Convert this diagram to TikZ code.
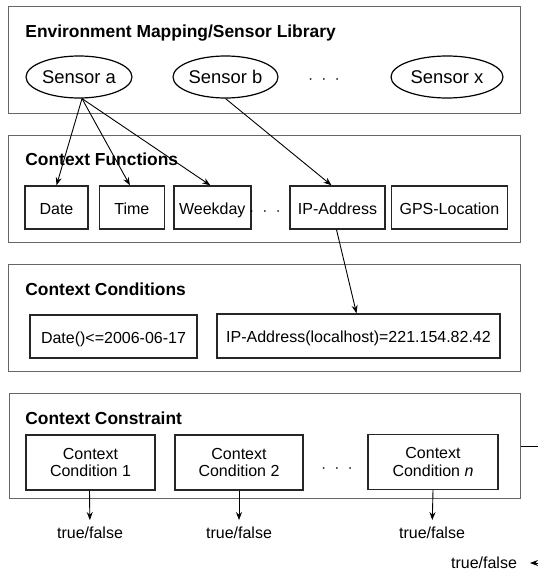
\documentclass[tikz,border=0pt]{standalone}
\usepackage{fontspec}
\setmainfont{Liberation Sans}
\usetikzlibrary{shapes.geometric,arrows.meta,positioning}

\begin{document}
\begin{tikzpicture}[x=0.5pt,y=-0.5pt,
  panel/.style={rectangle,draw=black!60,line width=0.6pt,anchor=north west,inner sep=0pt},
  title/.style={anchor=base west,font=\fontsize{8.7}{10}\selectfont\bfseries,inner sep=0pt},
  sensor/.style={ellipse,draw,line width=0.6pt,minimum height=21pt,inner sep=0pt,
                 font=\fontsize{9.2}{11}\selectfont},
  box/.style={rectangle,draw=black!85,line width=0.7pt,inner sep=0pt,
              font=\fontsize{8}{8.8}\selectfont},
  func/.style={box,minimum height=21.5pt,text height=1.75ex,text depth=0.45ex},
  cond/.style={func},
  cons/.style={box,minimum height=27.5pt,align=center},
  result/.style={font=\fontsize{8}{9.5}\selectfont},
  dots/.style={font=\fontsize{8}{9}\selectfont\bfseries,inner sep=0pt},
  arrow/.style={-{Stealth[length=4pt,width=3pt]},line width=0.45pt},
  node distance=4.5pt
]
\useasboundingbox (0,0) rectangle (538,573);

% panels
\node[panel,minimum width=256pt,minimum height=53.5pt]   (envpanel)  at (8,6)   {};
\node[panel,minimum width=256pt,minimum height=53.5pt]   (funcpanel) at (8,135) {};
\node[panel,minimum width=256pt,minimum height=53.5pt]   (condpanel) at (8,264) {};
\node[panel,minimum width=255.5pt,minimum height=52.5pt] (conspanel) at (9,393) {};

\node[title] (envtitle)  at (25,37)  {Environment Mapping/Sensor Library};
\node[title] (functitle) at (25,165) {Context Functions};
\node[title] (condtitle) at (25,295) {Context Conditions};
\node[title] (constitle) at (25,424) {Context Constraint};

% sensors
\node[sensor,minimum width=53pt] (sa) at (79,77)    {Sensor a};
\node[sensor,minimum width=52.5pt] (sb) at (225.5,77) {Sensor b};
\node[sensor,minimum width=56pt] (sx) at (447,77)   {Sensor x};
\node[dots] (sdots) at (324,80) {$\cdot\;\cdot\;\cdot$};

% functions
\node[func,minimum width=31.5pt] (fdate) at (56.5,207.5) {Date};
\node[func,minimum width=32.5pt,right=5pt of fdate] (ftime) {Time};
\node[func,minimum width=38.5pt,right=4pt of ftime] (fweek) {Weekday};
\node[func,minimum width=47.5pt] (fip) at (337.5,207.5) {IP-Address};
\node[func,minimum width=58pt,right=2.5pt of fip] (fgps) {GPS-Location};
\node[dots] (fdots) at (265,212) {$\cdot\;\cdot\;\cdot$};

% conditions
\node[cond,minimum width=83.5pt] (cdate) at (113.5,336.5) {Date()<=2006-06-17};
\node[cond,minimum width=141.5pt,minimum height=22pt] (cip) at (358.5,336) {IP-Address(localhost)=221.154.82.42};

% constraint
\node[cons,minimum width=64.5pt] (cc1) at (90.5,462.5) {Context\\Condition 1};
\node[cons,minimum width=64pt]   (cc2) at (239,462.5)  {Context\\Condition 2};
\node[cons,minimum width=65pt]   (ccn) at (433,462)    {Context\\Condition \textit{n}};
\node[dots] (cdots) at (337,469) {$\cdot\;\cdot\;\cdot$};

\node[result] (tf1) at (90,533)  {true/false};
\node[result] (tf2) at (239,533) {true/false};
\node[result] (tfn) at (432,533) {true/false};
\node[result] (tfall) at (484,563) {true/false};

\coordinate (outr) at (538,445);
\coordinate (outb) at (538,563);

% connectors
\draw[arrow] ([xshift=1.5pt]sa.south) -- (fdate.north);
\draw[arrow] ([xshift=1.5pt]sa.south) -- ([xshift=-1pt]ftime.north);
\draw[arrow] ([xshift=1.5pt]sa.south) -- ([xshift=-1pt]fweek.north);
\draw[arrow] (sb.south) -- ([xshift=-3pt]fip.north);
\draw[arrow] ([xshift=-0.5pt]fip.south) -- ([xshift=-1pt]cip.north);

\draw[arrow] ([xshift=-0.5pt]cc1.south) -- (tf1);
\draw[arrow] (cc2.south) -- (tf2);
\draw[arrow] (ccn.south) -- (tfn);

\draw[line width=0.45pt] (conspanel.east) -- (conspanel.east -| outr);
\draw[arrow,shorten >=3pt] (outb) -- (tfall);
\end{tikzpicture}
\end{document}
